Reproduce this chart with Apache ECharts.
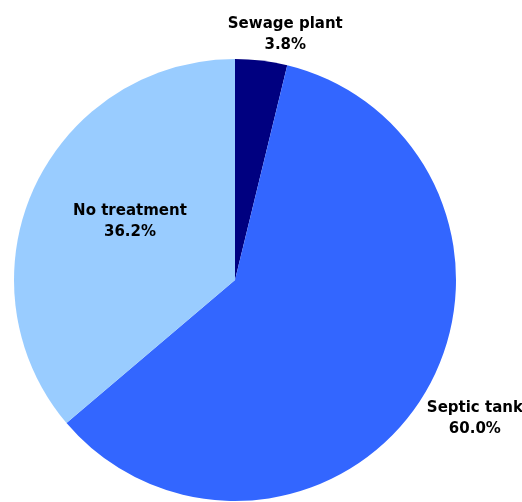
<!DOCTYPE html>
<html>
<head>
<meta charset="utf-8">
<script src="https://cdn.jsdelivr.net/npm/echarts@6/dist/echarts.min.js"></script>
<style>html,body{margin:0;padding:0;background:#fff;}#c{width:522px;height:502px;}</style>
</head>
<body>
<div id="c"></div>
<script>
var categories = ['Sewage plant', 'Septic tank', 'No treatment'];
var values = [3.8, 60.0, 36.2];
var colors = ['#000080', '#3366FF', '#99CCFF'];

var chart = echarts.init(document.getElementById('c'), null, {renderer: 'canvas'});
var data = categories.map(function (n, i) {
  return {
    name: n, value: values[i],
    itemStyle: {color: colors[i]},
    label: {position: i === 2 ? 'inside' : 'outside'}
  };
});
var labelShift = [[18, -18], [40, 18], [-2, -11]];
chart.setOption({
  animation: false,
  series: [{
    type: 'pie',
    center: [235, 280],
    radius: 221,
    startAngle: 90,
    clockwise: true,
    avoidLabelOverlap: false,
    data: data,
    itemStyle: {borderWidth: 0},
    labelLine: {show: false, length: 8, length2: 0},
    labelLayout: function (p) {
      var s = labelShift[p.dataIndex];
      return {align: 'center', dx: s[0], dy: s[1]};
    },
    label: {
      formatter: function (p) { return p.name + '\n' + p.value.toFixed(1) + '%'; },
      fontFamily: 'DejaVu Sans',
      fontWeight: 'bold',
      fontSize: 15,
      lineHeight: 21,
      color: '#000',
      align: 'center'
    }
  }]
});
</script>
</body>
</html>
